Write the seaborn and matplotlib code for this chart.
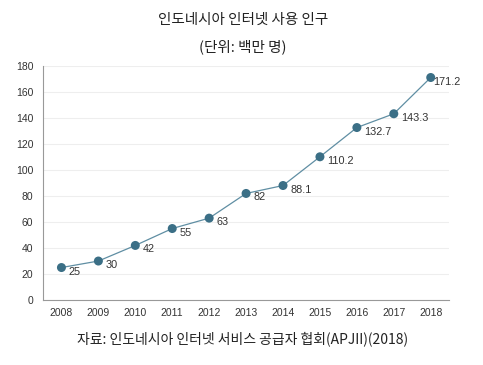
import numpy as np
import matplotlib
matplotlib.use("Agg")
import matplotlib.pyplot as plt
import seaborn as sns

years = ["2008", "2009", "2010", "2011", "2012", "2013", "2014", "2015", "2016", "2017", "2018"]
users = [25, 30, 42, 55, 63, 82, 88.1, 110.2, 132.7, 143.3, 171.2]
labels = ["25", "30", "42", "55", "63", "82", "88.1", "110.2", "132.7", "143.3", "171.2"]

sns.set_style("white")
plt.rcParams['font.family'] = ['Noto Sans CJK KR', 'DejaVu Sans']

fig = plt.figure(figsize=(4.83, 3.65), dpi=100)
ax = fig.add_axes([0.089, 0.178, 0.841, 0.641])

idx = np.arange(len(years))
sns.lineplot(x=idx, y=users, ax=ax, color="#5f8ea3", linewidth=0.9)
sns.scatterplot(x=idx, y=users, ax=ax, color="#3b6f86", s=42, edgecolor="none", zorder=3)

for i, (v, t) in enumerate(zip(users, labels)):
    dx = 2 if i == len(users) - 1 else 7
    ax.annotate(t, (i, v), xytext=(dx, -4), textcoords="offset pixels",
                ha="left", va="center", fontsize=7.8, color="#333333",
                family=['Liberation Sans', 'DejaVu Sans'])

ax.set_xlim(-0.5, 10.5)
ax.set_ylim(0, 180)
ax.set_yticks(range(0, 181, 20))
ax.set_xticks(idx)
ax.set_xticklabels(years)
ax.set_xticks(np.arange(-0.5, 11, 1), minor=True)
ax.tick_params(axis="x", which="major", length=0, pad=6, labelsize=7.5, colors="#333333")
ax.tick_params(axis="x", which="minor", length=4, color="#999999", width=0.8)
ax.tick_params(axis="y", length=4, color="#999999", width=0.8, labelsize=7.5, colors="#333333", pad=3)
for lab in ax.get_xticklabels() + ax.get_yticklabels():
    lab.set_family(['Liberation Sans', 'DejaVu Sans'])

ax.grid(axis="y", color="#eeeeee", linewidth=0.8)
ax.set_axisbelow(True)
for s in ["top", "right"]:
    ax.spines[s].set_visible(False)
for s in ["left", "bottom"]:
    ax.spines[s].set_color("#999999")
    ax.spines[s].set_linewidth(0.8)

fig.text(0.503, 0.945, "인도네시아 인터넷 사용 인구", ha="center", va="center", fontsize=10.5, color="#222222")
fig.text(0.503, 0.872, "(단위: 백만 명)", ha="center", va="center", fontsize=10.5, color="#222222")
fig.text(0.503, 0.071, "자료: 인도네시아 인터넷 서비스 공급자 협회(APJII)(2018)", ha="center", va="center",
         fontsize=10, color="#222222")

fig.savefig("out.png", dpi=100)
